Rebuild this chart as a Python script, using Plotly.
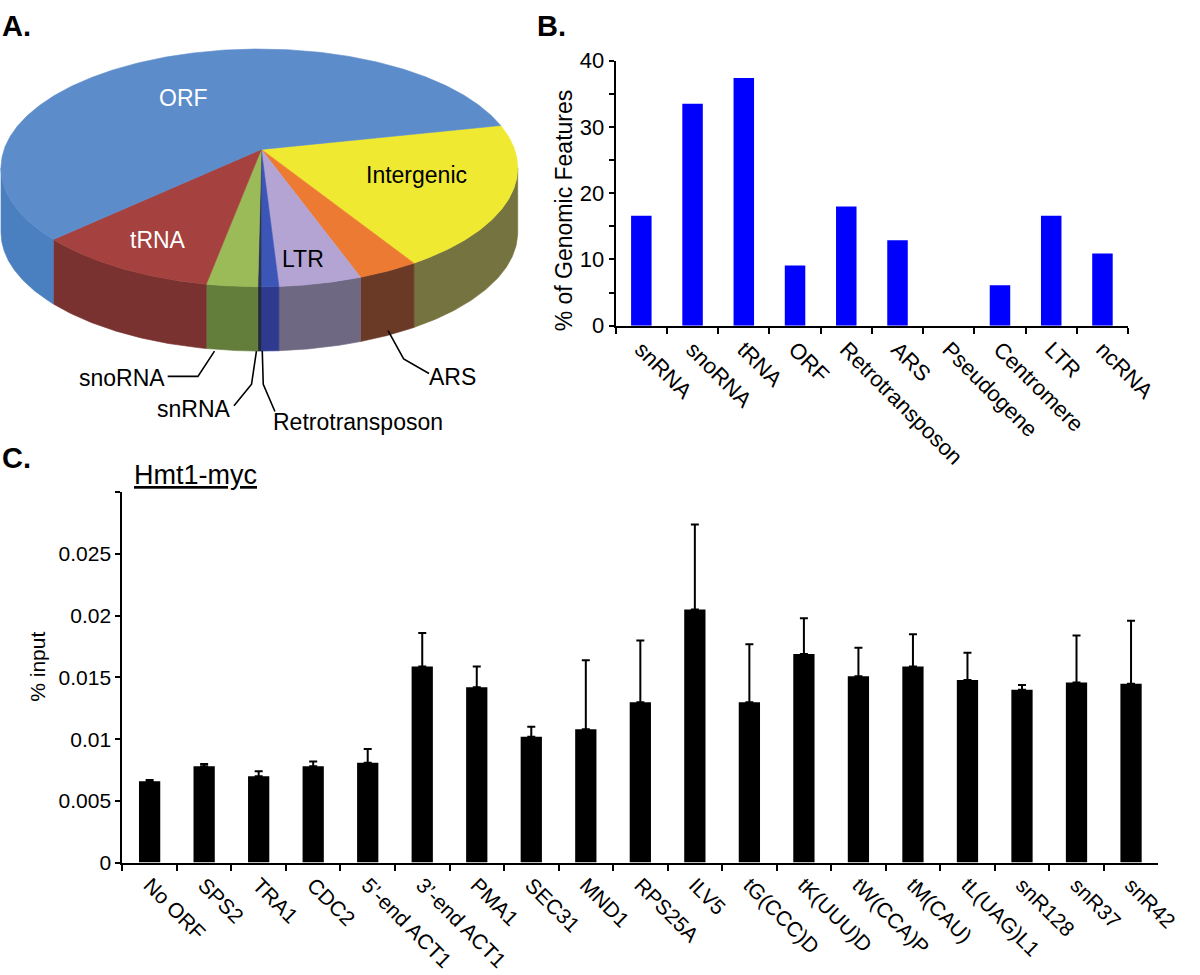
import numpy as np
import plotly.graph_objects as go

W, H = 1200, 975
FONT = "Liberation Sans, Arial, sans-serif"

# ---------------- Panel A data (3-D pie, % of peaks) ----------------
pie_labels = ["Intergenic", "ARS", "LTR", "Retrotransposon", "snRNA", "snoRNA", "tRNA", "ORF"]
pie_values = [20.6, 3.8, 5.2, 1.1, 0.2, 3.2, 11.4, 54.5]
pie_top_colors = ["#efe932", "#ec7a32", "#b4a4d4", "#3c56b8", "#2b3553", "#9bbb59", "#a5413e", "#5d8ccb"]
pie_side_colors = ["#75733f", "#6b3a26", "#6e6882", "#2e3a8e", "#222a40", "#637d3b", "#7a3230", "#4a7fc0"]

# ---------------- Panel B data ----------------
feature_names = ["snRNA", "snoRNA", "tRNA", "ORF", "Retrotransposon", "ARS",
                 "Pseudogene", "Centromere", "LTR", "ncRNA"]
feature_pct = [16.6, 33.5, 37.4, 9.1, 18.0, 12.9, 0.0, 6.1, 16.6, 10.9]

# ---------------- Panel C data ----------------
loci = ["No ORF", "SPS2", "TRA1", "CDC2", "5\u2019-end ACT1", "3\u2019-end ACT1", "PMA1",
        "SEC31", "MND1", "RPS25A", "ILV5", "tG(CCC)D", "tK(UUU)D", "tW(CCA)P",
        "tM(CAU)", "tL(UAG)L1", "snR128", "snR37", "snR42"]
pct_input = [0.0066, 0.0078, 0.0070, 0.0078, 0.0081, 0.0159, 0.0142, 0.0102, 0.0108,
             0.0130, 0.0205, 0.0130, 0.0169, 0.0151, 0.0159, 0.0148, 0.0140, 0.0146, 0.0145]
pct_input_err = [0.0001, 0.0002, 0.0004, 0.0004, 0.0011, 0.0027, 0.0017, 0.0008, 0.0056,
                 0.0050, 0.0069, 0.0047, 0.0029, 0.0023, 0.0026, 0.0022, 0.0004, 0.0038, 0.0051]


def px(x, y):
    """pixel -> paper coordinates"""
    return x / W, 1 - y / H


fig = go.Figure()

# ---------------- Panel A: 3-D pie drawn in a pixel-scaled hidden axis ----------------
CX, CY, RX, RY, DEPTH = 266.0, 160.0, 265.0, 122.0, 66.0
APX, APY = 268.0, 141.0
START = 20.9


def rim(t, dz=0.0):
    t = np.radians(t)
    return CX + RX * np.cos(t), CY - RY * np.sin(t) + dz


cum = 0.0
slices = []
for lab, v, ct, cs in zip(pie_labels, pie_values, pie_top_colors, pie_side_colors):
    t0 = START - 3.6 * cum
    t1 = t0 - 3.6 * v
    cum += v
    slices.append((lab, t0, t1, ct, cs))

# side walls (front half only)
for lab, t0, t1, ct, cs in slices:
    lo, hi = max(t1, -180.0), min(t0, 0.0)
    if hi > lo:
        ts = np.linspace(hi, lo, 80)
        xt, yt = rim(ts)
        xb, yb = rim(ts[::-1], DEPTH)
        xs = np.concatenate([xt, xb, xt[:1]])
        ys = np.concatenate([yt, yb, yt[:1]])
        fig.add_trace(go.Scatter(x=xs, y=ys, fill="toself", fillcolor=cs, mode="lines",
                                 line=dict(color=cs, width=0.6), hoverinfo="skip",
                                 xaxis="x3", yaxis="y3", showlegend=False))

# top faces
for lab, t0, t1, ct, cs in slices:
    ts = np.linspace(t0, t1, max(4, int(abs(t1 - t0) * 2)))
    xr, yr = rim(ts)
    xs = np.concatenate([[APX], xr, [APX]])
    ys = np.concatenate([[APY], yr, [APY]])
    fig.add_trace(go.Scatter(x=xs, y=ys, fill="toself", fillcolor=ct, mode="lines",
                             line=dict(color=ct, width=0.6), hoverinfo="skip",
                             xaxis="x3", yaxis="y3", showlegend=False))

# ---------------- Panel B ----------------
fig.add_trace(go.Bar(x=feature_names, y=feature_pct, marker=dict(color="#0000ff", line=dict(width=0)),
                     width=0.4, xaxis="x2", yaxis="y2", showlegend=False))

# ---------------- Panel C ----------------
fig.add_trace(go.Bar(x=loci, y=pct_input, marker=dict(color="black", line=dict(width=0)),
                     width=0.39,
                     error_y=dict(type="data", array=pct_input_err, arrayminus=[0] * len(loci),
                                  symmetric=False, color="black", thickness=2, width=4),
                     xaxis="x", yaxis="y", showlegend=False))

axis_common = dict(showline=True, linecolor="black", linewidth=2, showgrid=False, zeroline=False,
                   ticks="outside", tickcolor="black", tickwidth=2)

fig.update_layout(
    width=W, height=H,
    margin=dict(l=0, r=0, t=0, b=0),
    paper_bgcolor="white", plot_bgcolor="rgba(0,0,0,0)",
    font=dict(family=FONT, color="black"),
    showlegend=False,
    # Panel C
    xaxis=dict(domain=[125.5 / W, 1188 / W], anchor="y", type="category",
               tickangle=45, tickson="boundaries", tickfont=dict(size=21), ticklen=6,
               range=[-0.5, len(loci) - 0.5], **axis_common),
    yaxis=dict(domain=[1 - 873 / H, 1 - 493 / H], anchor="x", range=[0, 0.03],
               tickvals=[0, 0.005, 0.01, 0.015, 0.02, 0.025, 0.03],
               ticktext=["0", "0.005", "0.01", "0.015", "0.02", "0.025", ""],
               tickfont=dict(size=21), ticklen=5, **axis_common),
    # Panel B
    xaxis2=dict(domain=[631.5 / W, 1157 / W], anchor="y2", type="category",
                tickangle=45, tickson="boundaries", tickfont=dict(size=22), ticklen=6,
                range=[-0.5, len(feature_names) - 0.5], **axis_common),
    yaxis2=dict(domain=[1 - 322 / H, 1 - 50 / H], anchor="x2", range=[0, 40],
                tickvals=[0, 10, 20, 30, 40], tickfont=dict(size=22), ticklen=5,
                minor=dict(tickvals=[5, 15, 25, 35], ticks="outside", ticklen=5,
                           tickwidth=2, tickcolor="black", showgrid=False),
                **axis_common),
    # Panel A (pixel-scaled, hidden)
    xaxis3=dict(domain=[0, 540 / W], range=[0, 540], visible=False, anchor="y3"),
    yaxis3=dict(domain=[1 - 440 / H, 1], range=[440, 0], visible=False, anchor="x3"),
)

annotations = []


def add_text(text, x, y, size, xanchor="center", color="black", angle=0, bold=False):
    xp, yp = px(x, y)
    annotations.append(dict(text=("<b>%s</b>" % text) if bold else text, x=xp, y=yp,
                            xref="paper", yref="paper", xanchor=xanchor, yanchor="middle",
                            showarrow=False, textangle=angle,
                            font=dict(family=FONT, size=size, color=color)))


# panel letters
add_text("A.", 0, 14, 29, xanchor="left", bold=True)
add_text("B.", 549, 14, 29, xanchor="left", bold=True)
add_text("C.", 0, 458, 29, xanchor="left", bold=True)

# axis titles
add_text("% of Genomic Features", 578, 204, 23, angle=-90)
add_text("% input", 39, 672, 21, angle=-90)
add_text("<u>Hmt1-myc</u>", 200, 475, 27)

# pie labels (pixel coords, panel A axis is 1:1 pixels)
add_text("ORF", 188, 88, 23, color="white")
add_text("tRNA", 162, 234, 23, color="white")
add_text("Intergenic", 427, 167, 23)
add_text("LTR", 311, 253, 23)
add_text("snoRNA", 171, 376, 23, xanchor="right")
add_text("snRNA", 239, 407, 23, xanchor="right")
add_text("Retrotransposon", 278, 421, 23, xanchor="left")
add_text("ARS", 438, 375, 23, xanchor="left")

fig.update_layout(annotations=annotations)

# leader lines for the small slices
leaders = [
    [(172, 374), (203, 374), (220, 348)],
    [(240, 404), (258, 382), (263, 348)],
    [(282, 410), (270, 382), (269, 348)],
    [(440, 371), (414, 356), (398, 327)],
]
shapes = []
for pts in leaders:
    path = "M " + " L ".join("%g,%g" % p for p in pts)
    shapes.append(dict(type="path", path=path, xref="x3", yref="y3",
                       line=dict(color="black", width=1.6)))
fig.update_layout(shapes=shapes)

fig.write_html("out.html", config={"displayModeBar": False},
               post_script="document.body.style.margin='0';document.body.style.overflow='hidden';")
